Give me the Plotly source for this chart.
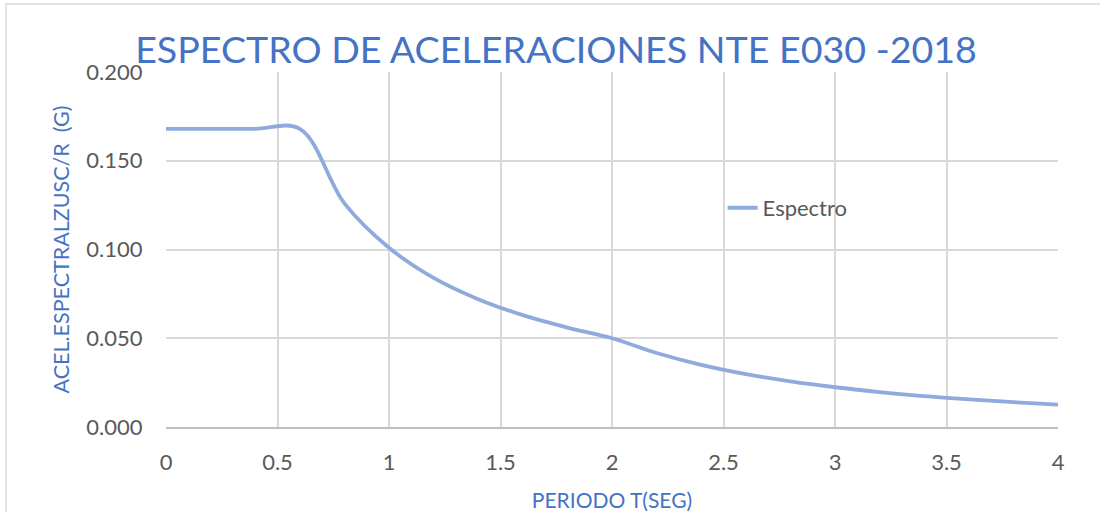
import plotly.graph_objects as go

periodo = [0.0, 0.2, 0.4, 0.6, 0.8, 1.0, 1.2, 1.4, 1.6, 1.8, 2.0,
           2.2, 2.4, 2.6, 2.8, 3.0, 3.2, 3.4, 3.6, 3.8, 4.0]
espectro = [0.168, 0.168, 0.168, 0.168, 0.126, 0.101, 0.084, 0.072, 0.063, 0.056, 0.050,
            0.0417, 0.035, 0.0298, 0.0257, 0.0224, 0.0197, 0.0174, 0.0156, 0.0140, 0.0126]

x_ticks = [0, 0.5, 1, 1.5, 2, 2.5, 3, 3.5, 4]
x_labels = ["0", "0.5", "1", "1.5", "2", "2.5", "3", "3.5", "4"]
y_ticks = [0, 0.05, 0.1, 0.15, 0.2]
y_labels = ["0.000", "0.050", "0.100", "0.150", "0.200"]

FONT = "Lato"
BLUE = "#4472C4"
LINE = "#8FAADC"
TICK = "#595959"

fig = go.Figure()
fig.add_trace(go.Scatter(
    x=periodo, y=espectro, mode="lines", name="Espectro",
    line=dict(color=LINE, width=3.8, shape="spline", smoothing=1.0),
))

fig.update_layout(
    width=1100, height=512,
    margin=dict(l=166, r=42, t=72, b=85),
    paper_bgcolor="white", plot_bgcolor="white",
    title=dict(text="ESPECTRO DE ACELERACIONES NTE E030 -2018",
               font=dict(family=FONT, size=37.6, color=BLUE),
               x=556 / 1100, xanchor="center", y=1 - 50 / 512, yanchor="middle"),
    showlegend=True,
    legend=dict(x=0.624, xanchor="left", y=0.617, yanchor="middle",
                bgcolor="rgba(0,0,0,0)", font=dict(family=FONT, size=22, color=TICK)),
    xaxis=dict(range=[0, 4], tickvals=x_ticks, ticktext=x_labels, automargin=False,
               showgrid=True, gridcolor="#D9D9D9", gridwidth=1.5,
               zeroline=False, showline=True, linecolor="#BFBFBF", linewidth=2,
               ticks="outside", ticklen=15, tickcolor="rgba(0,0,0,0)",
               tickfont=dict(family=FONT, size=22, color=TICK),
               title=dict(text="PERIODO T(SEG)", font=dict(family=FONT, size=21, color=BLUE),
                          standoff=20)),
    yaxis=dict(range=[0, 0.2], tickvals=y_ticks, ticktext=y_labels, automargin=False,
               showgrid=True, gridcolor="#D9D9D9", gridwidth=1.5,
               zeroline=False, showline=False,
               ticks="outside", ticklen=18, tickcolor="rgba(0,0,0,0)",
               tickfont=dict(family=FONT, size=22, color=TICK),
               title=dict(text="ACEL.ESPECTRALZUSC/R  (G)", font=dict(family=FONT, size=21.5, color=BLUE),
                          standoff=10)),
    shapes=[dict(type="rect", xref="paper", yref="paper",
                 x0=(6 - 166) / 892, x1=1.2, y0=-0.4, y1=(427 - 4) / 355,
                 line=dict(color="#D9D9D9", width=1.5), layer="below")],
)

fig.write_html("out.html", config={"displayModeBar": False},
               post_script="document.body.style.margin='0';document.body.style.overflow='hidden';")
